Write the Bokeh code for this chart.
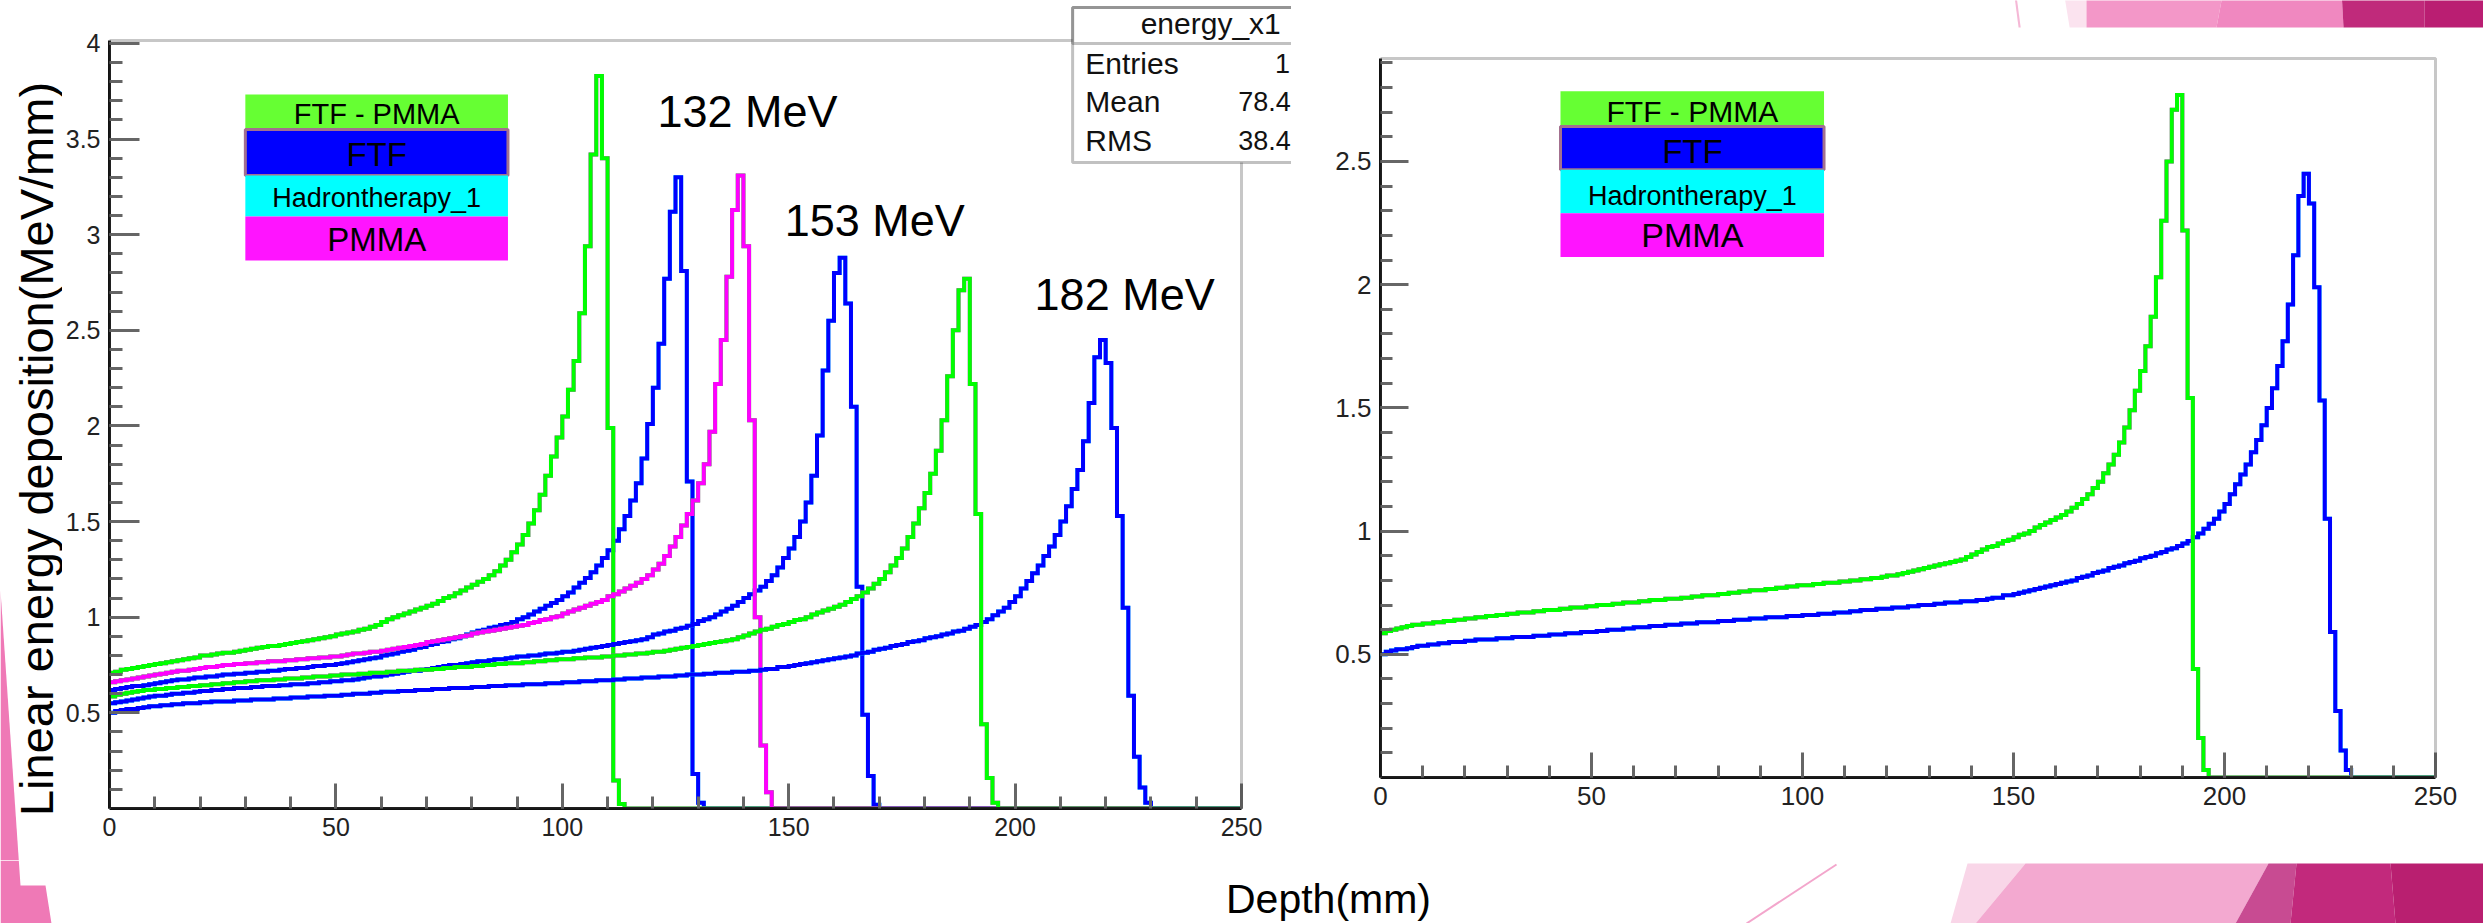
import numpy as np
from bokeh.plotting import figure
from bokeh.layouts import row, column
from bokeh.models import (FixedTicker, Label, BoxAnnotation, PolyAnnotation,
                          Range1d, CustomJSTickFormatter)
from bokeh.embed import file_html
from bokeh.resources import INLINE

# ---------------------------------------------------------------- data
BIN_WIDTH_MM = 1.25
N_BINS = 200

X_TICKS = [0, 50, 100, 150, 200, 250]
Y_TICKS_LEFT = [0.5, 1, 1.5, 2, 2.5, 3, 3.5, 4]
Y_TICKS_RIGHT = [0.5, 1, 1.5, 2, 2.5]

ENERGY_LABELS = ["132 MeV", "153 MeV", "182 MeV"]
LEGEND_ENTRIES = ["FTF - PMMA", "FTF", "Hadrontherapy_1", "PMMA"]
STATS_TITLE = "energy_x1"
STATS_NAMES = ["Entries", "Mean", "RMS"]
STATS_VALUES = ["1", "78.4", "38.4"]

# energy deposit per bin (MeV/mm), bins of 1.25 mm starting at 0 mm
WATER_132 = [
    0.62, 0.625, 0.63, 0.635, 0.64, 0.64, 0.645, 0.65,
    0.655, 0.66, 0.665, 0.67, 0.675, 0.675, 0.68, 0.685,
    0.685, 0.69, 0.69, 0.695, 0.70, 0.70, 0.705, 0.705,
    0.71, 0.71, 0.715, 0.715, 0.72, 0.72, 0.725, 0.73,
    0.73, 0.735, 0.735, 0.74, 0.745, 0.745, 0.75, 0.75,
    0.755, 0.76, 0.765, 0.77, 0.775, 0.78, 0.785, 0.79,
    0.80, 0.805, 0.81, 0.82, 0.825, 0.83, 0.84, 0.845,
    0.855, 0.86, 0.87, 0.875, 0.885, 0.89, 0.90, 0.91,
    0.92, 0.93, 0.935, 0.945, 0.95, 0.96, 0.965, 0.975,
    0.99, 1.00, 1.015, 1.03, 1.045, 1.06, 1.075, 1.09,
    1.11, 1.13, 1.155, 1.18, 1.205, 1.235, 1.27, 1.31,
    1.35, 1.40, 1.46, 1.53, 1.61, 1.70, 1.83, 2.01,
    2.20, 2.43, 2.77, 3.12, 3.30, 2.81, 1.71, 0.18,
    0.03, 0.0,
]
PMMA_132 = [
    0.71, 0.715, 0.725, 0.73, 0.735, 0.74, 0.745, 0.75,
    0.755, 0.76, 0.765, 0.77, 0.775, 0.78, 0.785, 0.79,
    0.80, 0.80, 0.805, 0.81, 0.815, 0.815, 0.82, 0.825,
    0.83, 0.835, 0.84, 0.845, 0.85, 0.85, 0.855, 0.86,
    0.865, 0.87, 0.875, 0.88, 0.885, 0.89, 0.895, 0.90,
    0.91, 0.915, 0.92, 0.925, 0.935, 0.94, 0.95, 0.96,
    0.975, 0.99, 1.00, 1.01, 1.02, 1.03, 1.04, 1.05,
    1.06, 1.07, 1.085, 1.10, 1.11, 1.125, 1.14, 1.155,
    1.17, 1.185, 1.20, 1.22, 1.24, 1.27, 1.30, 1.34,
    1.38, 1.43, 1.49, 1.56, 1.64, 1.74, 1.84, 1.94,
    2.05, 2.19, 2.34, 2.59, 2.94, 3.42, 3.83, 3.40,
    1.99, 0.146, 0.024, 0.0,
]
WATER_153 = [
    0.55, 0.555, 0.56, 0.565, 0.57, 0.575, 0.58, 0.585,
    0.59, 0.59, 0.595, 0.60, 0.60, 0.605, 0.605, 0.61,
    0.615, 0.615, 0.62, 0.62, 0.625, 0.625, 0.63, 0.63,
    0.63, 0.635, 0.635, 0.64, 0.64, 0.64, 0.645, 0.645,
    0.65, 0.65, 0.65, 0.655, 0.655, 0.66, 0.66, 0.665,
    0.665, 0.67, 0.67, 0.675, 0.68, 0.685, 0.69, 0.69,
    0.695, 0.70, 0.705, 0.71, 0.715, 0.72, 0.72, 0.725,
    0.73, 0.735, 0.74, 0.745, 0.75, 0.75, 0.755, 0.76,
    0.765, 0.77, 0.77, 0.775, 0.78, 0.78, 0.785, 0.79,
    0.795, 0.795, 0.80, 0.80, 0.805, 0.81, 0.81, 0.815,
    0.82, 0.82, 0.825, 0.83, 0.835, 0.84, 0.845, 0.85,
    0.855, 0.86, 0.865, 0.87, 0.875, 0.88, 0.885, 0.895,
    0.91, 0.915, 0.925, 0.93, 0.94, 0.945, 0.955, 0.965,
    0.98, 0.99, 1.00, 1.015, 1.03, 1.045, 1.06, 1.08,
    1.10, 1.12, 1.14, 1.16, 1.19, 1.22, 1.26, 1.31,
    1.36, 1.42, 1.50, 1.60, 1.74, 1.95, 2.29, 2.55,
    2.80, 2.88, 2.64, 2.10, 1.16, 0.49, 0.17, 0.02,
    0.0,
]
PMMA_153 = [
    0.66, 0.665, 0.67, 0.675, 0.68, 0.685, 0.69, 0.695,
    0.70, 0.705, 0.71, 0.715, 0.72, 0.72, 0.725, 0.73,
    0.735, 0.74, 0.74, 0.745, 0.75, 0.75, 0.755, 0.755,
    0.76, 0.76, 0.765, 0.765, 0.77, 0.77, 0.77, 0.775,
    0.775, 0.78, 0.78, 0.785, 0.785, 0.79, 0.79, 0.795,
    0.795, 0.80, 0.805, 0.81, 0.81, 0.815, 0.82, 0.82,
    0.825, 0.83, 0.835, 0.84, 0.845, 0.85, 0.855, 0.86,
    0.87, 0.875, 0.88, 0.885, 0.89, 0.895, 0.90, 0.905,
    0.915, 0.92, 0.925, 0.93, 0.935, 0.94, 0.945, 0.95,
    0.955, 0.96, 0.97, 0.975, 0.985, 0.99, 1.00, 1.005,
    1.02, 1.03, 1.04, 1.05, 1.06, 1.07, 1.08, 1.09,
    1.11, 1.12, 1.135, 1.15, 1.165, 1.18, 1.20, 1.22,
    1.25, 1.28, 1.32, 1.37, 1.42, 1.48, 1.54, 1.61,
    1.70, 1.80, 1.97, 2.22, 2.45, 2.78, 3.13, 3.31,
    2.94, 2.03, 1.00, 0.33, 0.085, 0.0,
]
WATER_182 = [
    0.50, 0.51, 0.515, 0.52, 0.52, 0.525, 0.53, 0.535, 0.535, 0.54,
    0.54, 0.545, 0.545, 0.55, 0.55, 0.55, 0.555, 0.555, 0.56, 0.56,
    0.56, 0.56, 0.565, 0.565, 0.565, 0.57, 0.57, 0.57,
    0.57, 0.575, 0.575, 0.575, 0.58, 0.58, 0.58, 0.585, 0.585, 0.585, 0.59, 0.59,
    0.59, 0.595, 0.595, 0.60, 0.60, 0.60, 0.605, 0.605, 0.61, 0.61, 0.61, 0.615,
    0.615, 0.615, 0.62, 0.62, 0.62, 0.625, 0.625, 0.625, 0.63, 0.63, 0.63,
    0.63, 0.635, 0.635, 0.635, 0.64, 0.64, 0.64, 0.645, 0.645, 0.645, 0.65, 0.65,
    0.65, 0.65, 0.655, 0.655,
    0.655, 0.66, 0.66, 0.66, 0.665, 0.665, 0.665, 0.67, 0.67,
    0.67, 0.675, 0.675, 0.68, 0.68, 0.68, 0.685, 0.685,
    0.685, 0.69, 0.69, 0.69, 0.695, 0.695, 0.70, 0.70, 0.70,
    0.705, 0.705, 0.71, 0.71, 0.71, 0.715, 0.715,
    0.715, 0.72, 0.72, 0.725, 0.73, 0.73, 0.74, 0.74,
    0.745, 0.75, 0.755, 0.76, 0.765, 0.77, 0.775, 0.78,
    0.785, 0.79, 0.795, 0.80, 0.81, 0.815, 0.82, 0.83,
    0.835, 0.84, 0.85, 0.855, 0.86, 0.87, 0.875, 0.88,
    0.89, 0.895, 0.90, 0.91, 0.915, 0.925, 0.93, 0.94,
    0.95, 0.96, 0.975, 0.99, 1.01, 1.03, 1.05, 1.08,
    1.11, 1.15, 1.19, 1.23, 1.27, 1.32, 1.37, 1.43,
    1.50, 1.58, 1.67, 1.77, 1.92, 2.12, 2.36, 2.45,
    2.33, 1.99, 1.53, 1.05, 0.59, 0.27, 0.11, 0.03, 0.0,
]
PMMA_182 = [
    0.585, 0.595, 0.60, 0.605, 0.61, 0.615, 0.62, 0.62,
    0.625, 0.625, 0.63, 0.63, 0.635, 0.635, 0.64, 0.64,
    0.645, 0.645, 0.65, 0.65, 0.655, 0.655, 0.66, 0.66,
    0.665, 0.665, 0.67, 0.67, 0.67, 0.675, 0.675, 0.68,
    0.68, 0.68, 0.685, 0.685, 0.69, 0.69, 0.69, 0.695,
    0.695, 0.70, 0.70, 0.70, 0.705, 0.705, 0.71, 0.71,
    0.71, 0.715, 0.715, 0.72, 0.72, 0.72, 0.725, 0.725,
    0.725, 0.73, 0.73, 0.735, 0.735, 0.74, 0.74, 0.74,
    0.745, 0.745, 0.75, 0.75, 0.755, 0.755, 0.76, 0.76,
    0.76, 0.765, 0.765, 0.77, 0.77, 0.775, 0.775, 0.78,
    0.78, 0.78, 0.785, 0.785, 0.79, 0.79, 0.79, 0.795,
    0.795, 0.80, 0.80, 0.805, 0.805, 0.81, 0.81, 0.815,
    0.82, 0.82, 0.825, 0.83, 0.835, 0.84, 0.845, 0.85,
    0.855, 0.86, 0.865, 0.87, 0.875, 0.88, 0.885, 0.895,
    0.905, 0.915, 0.925, 0.935, 0.94, 0.95, 0.96, 0.965,
    0.975, 0.985, 0.99, 1.00, 1.015, 1.025, 1.035, 1.045,
    1.055, 1.065, 1.08, 1.095, 1.11, 1.13, 1.15, 1.175,
    1.20, 1.235, 1.27, 1.31, 1.36, 1.42, 1.49, 1.57,
    1.65, 1.75, 1.87, 2.03, 2.26, 2.50, 2.71, 2.77,
    2.22, 1.54, 0.44, 0.16, 0.03, 0.0,
]

# ---------------------------------------------------------------- style
C_FTF = "#0000ff"
C_HADRON = "#00ffff"
C_PMMA = "#ff00ff"
C_FTF_PMMA = "#00ff00"
LEG_FILL = ["#66ff33", "#0000ff", "#00ffff", "#ff14ff"]
FONT = "Liberation Sans"
EDGES = np.arange(N_BINS + 1) * BIN_WIDTH_MM


def no_frame_align(p):
    try:
        p.frame_align = False
    except Exception:
        pass


def hist(p, vals, color, width=4):
    y = np.zeros(N_BINS + 1)
    y[:len(vals)] = vals
    y[-1] = y[-2]
    p.step(EDGES, y, mode="after", line_color=color, line_width=width,
           line_join="miter")


def style_axes(p, y_major, y_top, ymaj_len, ymin_len, xmaj_len, xmin_len, fsize):
    p.xaxis.ticker = FixedTicker(ticks=X_TICKS, minor_ticks=list(range(0, 251, 10)))
    p.yaxis.ticker = FixedTicker(
        ticks=y_major,
        minor_ticks=[round(0.1 * i, 1) for i in range(1, int(y_top * 10) + 1)])
    p.xaxis.bounds = (0, 250)
    p.yaxis.bounds = (0, y_top)
    for ax, ml, nl in ((p.xaxis[0], xmaj_len, xmin_len), (p.yaxis[0], ymaj_len, ymin_len)):
        ax.axis_line_color = "#111111"
        ax.axis_line_width = 3
        ax.major_tick_in = ml
        ax.major_tick_out = 0
        ax.minor_tick_in = nl
        ax.minor_tick_out = 0
        ax.major_tick_line_color = "#666666"
        ax.major_tick_line_width = 3
        ax.minor_tick_line_color = "#666666"
        ax.minor_tick_line_width = 3
        ax.major_label_text_font = FONT
        ax.major_label_text_font_size = fsize
        ax.major_label_text_color = "#222222"
        ax.major_label_standoff = 9
        ax.formatter = CustomJSTickFormatter(
            code="return (Math.round(tick*10)/10).toString();")
    p.xgrid.visible = False
    p.ygrid.visible = False
    p.outline_line_color = None
    p.background_fill_color = "white"
    p.border_fill_color = "white"
    # ROOT frame box (top and right edges visible)
    p.add_layout(BoxAnnotation(left=0, right=250, bottom=0, top=y_top,
                               fill_alpha=0.0, line_color="#444444", line_width=3))


def legend_box(p, x0, x1, rows, text_x, centers, sizes):
    for (top, bot), fill, i in zip(rows, LEG_FILL, range(4)):
        if i == 1:
            p.quad(left=x0, right=x1, top=top, bottom=bot, fill_color=fill,
                   line_color="#a3708f", line_width=3)
        else:
            p.quad(left=x0, right=x1, top=top, bottom=bot, fill_color=fill,
                   line_color=None)
    for txt, yc, fs in zip(LEGEND_ENTRIES, centers, sizes):
        p.add_layout(Label(x=text_x, y=yc, text=txt, text_align="center",
                           text_baseline="middle", text_font=FONT,
                           text_font_size=fs, text_color="black"))


# ---------------------------------------------------------------- left margin (axis title)
side = figure(width=62, height=860, x_range=Range1d(0, 62), y_range=Range1d(0, 860),
              output_backend="svg", toolbar_location=None, min_border=0,
              x_axis_type=None, y_axis_type=None)
side.xgrid.visible = False
side.ygrid.visible = False
side.outline_line_color = None
side.background_fill_color = "white"
side.border_fill_color = "white"
no_frame_align(side)
side.patch([0, 18.3, 0], [270, 0, 0], fill_color="#ef79b6", line_color=None)
side.add_layout(Label(x=35.5, y=411.5, text="Linear energy deposition(MeV/mm)",
                      angle=np.pi / 2, text_align="center", text_baseline="middle",
                      text_font=FONT, text_font_size="47px", text_color="black"))

# ---------------------------------------------------------------- left plot
left = figure(width=1229, height=860, x_range=Range1d(0, 261.04), y_range=Range1d(0, 4.2248),
              output_backend="svg", toolbar_location=None,
              min_border_left=47, min_border_right=0, min_border_top=0,
              min_border_bottom=52)
no_frame_align(left)
style_axes(left, Y_TICKS_LEFT, 4.016, 30, 13, 25, 12, "25px")

for water, pmma, pmma_on_top in ((WATER_132, PMMA_132, False),
                                 (WATER_153, PMMA_153, True),
                                 (WATER_182, PMMA_182, False)):
    hist(left, water, C_HADRON)
    hist(left, water, C_FTF)
    if pmma_on_top:
        hist(left, pmma, C_FTF_PMMA)
        hist(left, pmma, C_PMMA)
    else:
        hist(left, pmma, C_PMMA)
        hist(left, pmma, C_FTF_PMMA)

legend_box(left, 30.0, 88.0,
           [(3.733, 3.55), (3.55, 3.31), (3.31, 3.095), (3.095, 2.865)],
           59.0, [3.629, 3.417, 3.192, 2.973], ["29px", "33px", "27px", "33px"])

for txt, x, y in zip(ENERGY_LABELS, [121.0, 149.1, 204.3], [3.642, 3.074, 2.685]):
    left.add_layout(Label(x=x, y=y, text=txt, text_font=FONT, text_font_size="45px",
                          text_color="black", text_baseline="middle"))

# statistics box (partly hidden by the second picture)
left.add_layout(BoxAnnotation(left=212.7, right=300, top=4.188, bottom=3.378,
                              fill_color="white", fill_alpha=1.0,
                              line_color="#333333", line_width=3))
left.add_layout(BoxAnnotation(left=212.7, right=300, top=4.188, bottom=4.0,
                              fill_alpha=0.0, line_color="#333333", line_width=3))
left.add_layout(Label(x=243.2, y=4.102, text=STATS_TITLE, text_align="center",
                      text_baseline="middle", text_font=FONT, text_font_size="30px",
                      text_color="#111111"))
for name, val, yc in zip(STATS_NAMES, STATS_VALUES, [3.898, 3.696, 3.495]):
    left.add_layout(Label(x=215.5, y=yc, text=name, text_font=FONT, text_baseline="middle",
                          text_font_size="30px", text_color="#111111"))
    left.add_layout(Label(x=257.4 if val == "1" else 249.3, y=yc, text=val,
                          text_font=FONT, text_baseline="middle",
                          text_font_size="27px", text_color="#111111"))

# ---------------------------------------------------------------- right plot
right = figure(width=1192, height=860, x_range=Range1d(0, 261.37), y_range=Range1d(0, 3.1534),
               output_backend="svg", toolbar_location=None,
               min_border_left=89, min_border_right=0, min_border_top=0,
               min_border_bottom=83)
no_frame_align(right)
style_axes(right, Y_TICKS_RIGHT, 2.918, 28, 12, 25, 12, "26px")

hist(right, WATER_182, C_HADRON)
hist(right, WATER_182, C_FTF)
hist(right, PMMA_182, C_PMMA)
hist(right, PMMA_182, C_FTF_PMMA)

legend_box(right, 42.65, 105.1,
           [(2.785, 2.642), (2.642, 2.467), (2.467, 2.290), (2.290, 2.112)],
           73.9, [2.703, 2.539, 2.358, 2.203], ["30px", "33px", "27px", "34px"])

# top-right slide banner
banner = [
    ([161.8, 167.3, 167.3, 163.3], "#fbe3ef"),
    ([167.3, 199.8, 198.1, 167.3], "#f397c8"),
    ([199.8, 227.7, 228.2, 198.1], "#f088c0"),
    ([227.7, 247.4, 247.4, 228.2], "#c02a7b"),
    ([247.4, 265.0, 265.0, 247.4], "#ba1e72"),
]
for xs, col in banner:
    right.add_layout(PolyAnnotation(xs=xs, ys=[3.2, 3.2, 3.044, 3.044],
                                    fill_color=col, fill_alpha=1.0, line_color=None))
right.add_layout(PolyAnnotation(xs=[150.0, 150.5, 151.7, 151.2], ys=[3.2, 3.2, 3.044, 3.044],
                                fill_color="#f5b8d6", fill_alpha=1.0, line_color=None))

# ---------------------------------------------------------------- bottom strip
strip = figure(width=2483, height=63, x_range=Range1d(0, 2483), y_range=Range1d(0, 63),
               output_backend="svg", toolbar_location=None, min_border=0,
               x_axis_type=None, y_axis_type=None)
strip.xgrid.visible = False
strip.ygrid.visible = False
strip.outline_line_color = None
strip.background_fill_color = "white"
strip.border_fill_color = "white"
no_frame_align(strip)

shapes = [
    ([0, 18.3, 20, 45, 51, 0], [63, 63, 38, 38, 0, 0], "#ef79b6"),
    ([1967, 2025, 1975, 1950], [60, 60, 0, 0], "#f9d6e8"),
    ([2025, 2268, 2235, 1975], [60, 60, 0, 0], "#f3a9d0"),
    ([2268, 2296, 2290, 2235], [60, 60, 0, 0], "#c84b92"),
    ([2296, 2390, 2395, 2290], [60, 60, 0, 0], "#c2297c"),
    ([2390, 2483, 2483, 2395], [60, 60, 0, 0], "#b91f70"),
]
for xs, ys, col in shapes:
    strip.patch(xs, ys, fill_color=col, line_color=None)
strip.line([1746, 1836], [0, 59], line_color="#f3a6cc", line_width=2)

strip.add_layout(Label(x=1328, y=25, text="Depth(mm)", text_align="center",
                       text_baseline="middle", text_font=FONT,
                       text_font_size="41px", text_color="black"))

page = column(row(side, left, right, spacing=0), strip, spacing=0)
open("out.html", "w").write(file_html(page, INLINE))
